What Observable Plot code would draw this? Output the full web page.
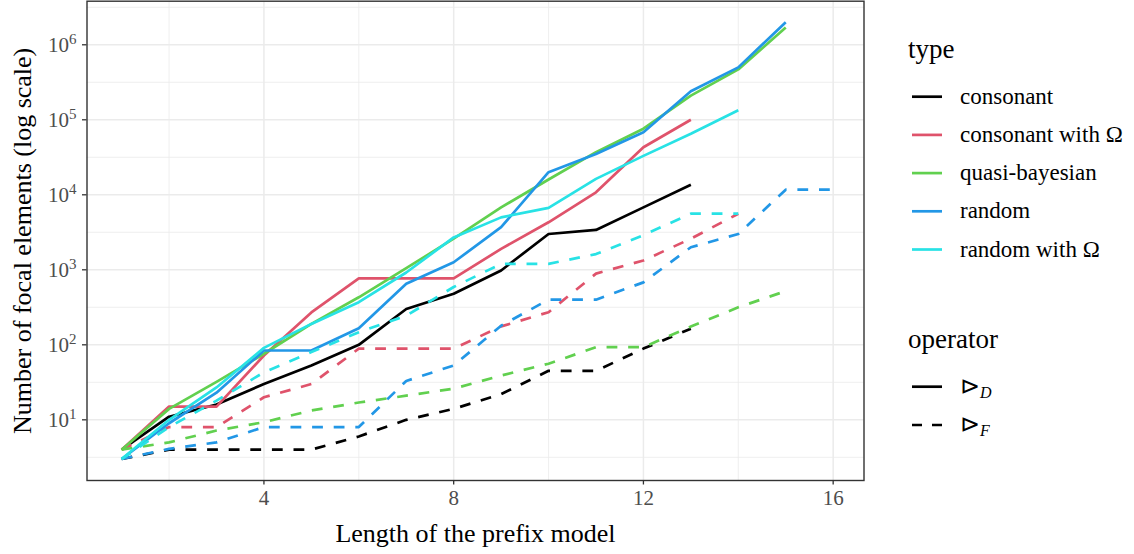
<!DOCTYPE html>
<html><head><meta charset="utf-8">
<script src="https://cdn.jsdelivr.net/npm/d3@7"></script>
<script src="https://cdn.jsdelivr.net/npm/@observablehq/plot@0.6"></script>
<style>
body{margin:0;background:#fff;}
#wrap{position:relative;width:1134px;height:554px;font-family:"Liberation Serif","Times New Roman",serif;}
#wrap svg{font-family:"Liberation Serif","Times New Roman",serif;}
#legend{position:absolute;left:0;top:0;}
</style></head><body><div id="wrap"></div>
<script>
// ---- data ----
const lengths = [1,2,3,4,5,6,7,8,9,10,11,12,13,14,15,16];
const types = ["consonant","consonant with Ω","quasi-bayesian","random","random with Ω"];
const typeColors = ["#000000","#DF536B","#61D04F","#2297E6","#28E2E5"];
const operators = ["D","F"];

// operator D (solid)
const consonantD      = [4, 11, 16, 30, 53, 100, 300, 480, 980, 3000, 3400, 6800, 13600];
const consonantOmegaD = [4, 15, 15, 72, 270, 770, 770, 770, 1900, 4300, 10800, 43000, 100000];
const quasiBayesD     = [4, 14, 32, 76, 190, 430, 1050, 2600, 6800, 16000, 37000, 76000, 210000, 470000, 1700000];
const randomD         = [3, 9, 23, 84, 84, 166, 650, 1260, 3700, 20000, 35000, 68000, 240000, 500000, 2000000];
const randomOmegaD    = [3, 10, 27, 91, 190, 370, 920, 2700, 5000, 6700, 16300, 33000, 65000, 134000];
// operator F (dashed)
const consonantF      = [3, 4, 4, 4, 4, 6, 10, 14, 22, 45, 45, 89, 164];
const consonantOmegaF = [4, 8, 8, 20, 30, 89, 89, 89, 176, 272, 890, 1330, 2600, 5600];
const quasiBayesF     = [4, 5, 7.2, 9.3, 13.3, 17, 21, 26, 39, 56, 93, 93, 175, 316, 520];
const randomF         = [3, 4.1, 5, 8, 8, 8, 33, 53, 180, 400, 400, 680, 2000, 3000, 11700, 11700];
const randomOmegaF    = [3, 8, 18, 43, 80, 147, 245, 590, 1200, 1200, 1620, 2900, 5600, 5600];

const xMajor = [4, 8, 12, 16];
const xMinor = [2, 6, 10, 14];
const yMajor = [1e1, 1e2, 1e3, 1e4, 1e5, 1e6];
const yMinor = [0.5, 1.5, 2.5, 3.5, 4.5, 5.5, 6.5].map(e => Math.pow(10, e));

const seriesValues = {
  "consonant": {D: consonantD, F: consonantF},
  "consonant with Ω": {D: consonantOmegaD, F: consonantOmegaF},
  "quasi-bayesian": {D: quasiBayesD, F: quasiBayesF},
  "random": {D: randomD, F: randomF},
  "random with Ω": {D: randomOmegaD, F: randomOmegaF}
};

const rows = [];
for (const t of types) for (const op of operators)
  seriesValues[t][op].forEach((v, i) => rows.push({len: lengths[i], n: v, type: t, operator: op}));

const LW = 2.7;
const lineMarks = [];
for (const t of types) for (const op of operators) {
  lineMarks.push(Plot.line(rows.filter(r => r.type === t && r.operator === op), {
    x: "len", y: "n", stroke: "type", strokeWidth: LW,
    strokeDasharray: op === "F" ? "10.8,10.8" : null,
    strokeLinecap: "butt", strokeLinejoin: "round"
  }));
}

const chart = Plot.plot({
  width: 1134, height: 554,
  marginLeft: 86.5, marginRight: 270.5, marginTop: 0.7, marginBottom: 74,
  style: {fontFamily: '"Liberation Serif","Times New Roman",serif', background: "#fff"},
  x: {domain: [0.27, 16.65]},
  y: {type: "log", domain: [Math.pow(10, 0.191), Math.pow(10, 6.581)]},
  color: {domain: types, range: typeColors},
  marks: [
    Plot.ruleY(yMinor, {stroke: "#EBEBEB", strokeWidth: 0.8}),
    Plot.ruleX(xMinor, {stroke: "#EBEBEB", strokeWidth: 0.8}),
    Plot.ruleY(yMajor, {stroke: "#EBEBEB", strokeWidth: 1.5}),
    Plot.ruleX(xMajor, {stroke: "#EBEBEB", strokeWidth: 1.5}),
    ...lineMarks,
    Plot.frame({stroke: "#333333", strokeWidth: 1.4}),
    Plot.axisX({ticks: xMajor, tickSize: 4.5, tickPadding: 5, fontSize: 21, stroke: "#333333", strokeWidth: 1.3, fill: "#4D4D4D", label: null, tickFormat: d => String(d)}),
    Plot.axisY({ticks: yMajor, tickSize: 4.5, tickPadding: 6, fontSize: 21, stroke: "#333333", strokeWidth: 1.3, fill: "#4D4D4D", label: null, tickFormat: d => String(Math.round(Math.log10(d)))}),
    Plot.text(["Length of the prefix model"], {frameAnchor: "bottom", text: d => d, dy: 53, fontSize: 26, fill: "#000", lineAnchor: "middle", textAnchor: "middle"}),
    Plot.text(["Number of focal elements (log scale)"], {frameAnchor: "left", text: d => d, dx: -64, rotate: -90, fontSize: 26, fill: "#000", lineAnchor: "middle", textAnchor: "middle"})
  ]
});

document.getElementById("wrap").appendChild(chart);

// superscript exponents on y tick labels
d3.select(chart).selectAll('g[aria-label="y-axis tick label"] text').each(function() {
  const e = this.textContent;
  const sel = d3.select(this);
  sel.text(null);
  sel.append("tspan").text("10");
  sel.append("tspan").attr("dy", "-0.48em").attr("font-size", "15px").text(e);
});

// ---- legend ----
const lg = d3.select("#wrap").append("svg").attr("id", "legend")
  .attr("width", 1134).attr("height", 554)
  .style("font-family", '"Liberation Serif","Times New Roman",serif');

const keyX1 = 912, keyX2 = 942, labelX = 960;
lg.append("text").attr("x", 908).attr("y", 58).attr("font-size", 27).text("type");
types.forEach((t, i) => {
  const y = 96.7 + i * 38.2;
  lg.append("line").attr("x1", keyX1).attr("x2", keyX2).attr("y1", y).attr("y2", y)
    .attr("stroke", typeColors[i]).attr("stroke-width", LW);
  lg.append("text").attr("x", labelX).attr("y", y + 7).attr("font-size", 23).text(t);
});

lg.append("text").attr("x", 908).attr("y", 348).attr("font-size", 27).text("operator");
operators.forEach((op, i) => {
  const y = 386.7 + i * 38.3;
  lg.append("line").attr("x1", keyX1).attr("x2", keyX2).attr("y1", y).attr("y2", y)
    .attr("stroke", "#000").attr("stroke-width", LW)
    .attr("stroke-dasharray", op === "F" ? "10,10" : null);
  const tx = lg.append("text").attr("x", labelX).attr("y", y + 7).attr("font-size", 24);
  tx.append("tspan").text("⊳");
  tx.append("tspan").attr("dy", "0.25em").attr("font-size", 16).attr("font-style", "italic").text(op);
});
</script></body></html>
